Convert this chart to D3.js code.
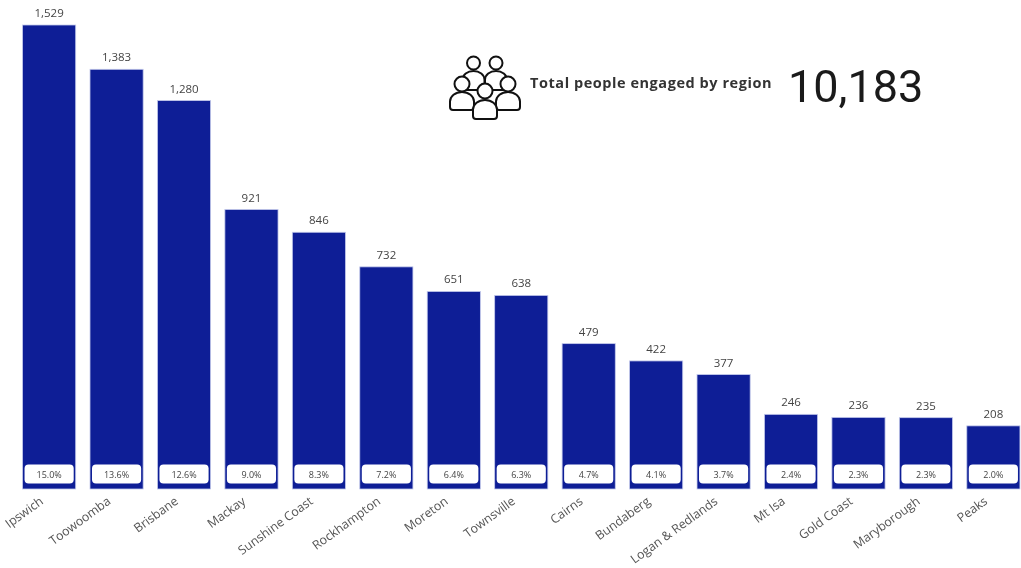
<!DOCTYPE html>
<html><head><meta charset="utf-8">
<script src="https://cdn.jsdelivr.net/npm/d3@7"></script>
<style>html,body{margin:0;padding:0;background:#fff;overflow:hidden}svg{display:block;filter:blur(.55px)}</style>
</head><body><svg id="c" width="1021" height="568"></svg>
<script>
const regions=["Ipswich","Toowoomba","Brisbane","Mackay","Sunshine Coast","Rockhampton","Moreton","Townsville","Cairns","Bundaberg","Logan & Redlands","Mt Isa","Gold Coast","Maryborough","Peaks"];
const people=[1529,1383,1280,921,846,732,651,638,479,422,377,246,236,235,208];
const shares=["15.0%","13.6%","12.6%","9.0%","8.3%","7.2%","6.4%","6.3%","4.7%","4.1%","3.7%","2.4%","2.3%","2.3%","2.0%"];
const totalLabel="Total people engaged by region";
const totalValue="10,183";
const font="'Open Sans','Noto Sans',sans-serif";
const svg=d3.select("#c");
const x=d3.scaleBand().domain(regions).range([15.4,1027.1]).paddingInner(0.212).paddingOuter(0.106);
const y=d3.scaleLinear().domain([0,1529]).range([489,25]);
const fmt=d3.format(",");
const rows=regions.map((r,i)=>({r,v:people[i],s:shares[i]}));
svg.selectAll("rect.bar").data(rows).join("rect").attr("class","bar")
 .attr("x",d=>x(d.r)).attr("y",d=>y(d.v)).attr("width",x.bandwidth()).attr("height",d=>y(0)-y(d.v))
 .attr("fill","#0e1e96").attr("stroke","#c4cAec").attr("stroke-width",.8);
svg.selectAll("text.val").data(rows).join("text").attr("class","val")
 .attr("x",d=>x(d.r)+x.bandwidth()/2).attr("y",d=>y(d.v)-8).attr("text-anchor","middle")
 .attr("font-family",font).attr("font-size",11.5).attr("fill","#444").text(d=>fmt(d.v));
svg.selectAll("rect.pill").data(rows).join("rect").attr("class","pill")
 .attr("x",d=>x(d.r)+2).attr("y",464.5).attr("width",x.bandwidth()-4).attr("height",19).attr("rx",4)
 .attr("fill","#fff");
svg.selectAll("text.pct").data(rows).join("text").attr("class","pct")
 .attr("x",d=>x(d.r)+x.bandwidth()/2).attr("y",478).attr("text-anchor","middle")
 .attr("font-family",font).attr("font-size",9).attr("fill","#444").text(d=>d.s);
svg.selectAll("text.cat").data(rows).join("text").attr("class","cat")
 .attr("transform",d=>`translate(${x(d.r)+x.bandwidth()/2-5},${503}) rotate(-36)`)
 .attr("text-anchor","end").attr("font-family",font).attr("font-size",12.4).attr("fill","#555").text(d=>d.r);
// header
const icon=svg.append("g").attr("fill","#fff").attr("stroke","#111").attr("stroke-width",2);
function person(cx,cy,r,w,top,bot){
 const g=icon.append("g");
 g.append("path").attr("d",`M${cx-w} ${bot-3}V${top+w*.8}A${w} ${w*.8} 0 0 1 ${cx+w} ${top+w*.8}V${bot-3}Q${cx+w} ${bot} ${cx+w-3} ${bot}H${cx-w+3}Q${cx-w} ${bot} ${cx-w} ${bot-3}Z`);
 g.append("circle").attr("cx",cx).attr("cy",cy).attr("r",r);
}
person(473.5,63,6.5,11,71,90);person(496,63,6.5,11,71,90);
person(462,84,7.5,12,92,110);person(508,84,7.5,12,92,110);
person(485,91,7.5,12,100,119);
svg.append("text").attr("x",530).attr("y",88).attr("font-family",font).attr("font-weight",700).attr("font-size",14.5).attr("letter-spacing",.55).attr("fill","#333").text(totalLabel);
svg.append("text").attr("x",788).attr("y",102).attr("font-family","Roboto,sans-serif").attr("font-size",45).attr("fill","#1a1a1a").text(totalValue);
</script></body></html>
